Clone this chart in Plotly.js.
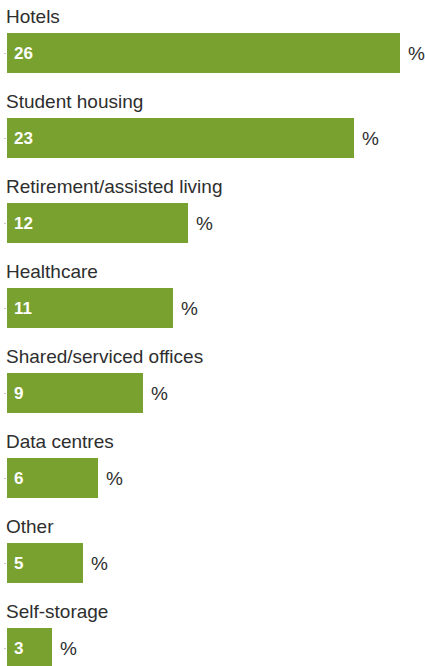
<!DOCTYPE html>
<html>
<head>
<meta charset="utf-8">
<script src="https://cdn.plot.ly/plotly-3.0.1.min.js"></script>
<style>html,body{margin:0;padding:0;background:#fff;}#chart{width:425px;height:666px;}</style>
</head>
<body>
<div id="chart"></div>
<script>
const categories = ["Hotels","Student housing","Retirement/assisted living","Healthcare","Shared/serviced offices","Data centres","Other","Self-storage"];
const values = [26,23,12,11,9,6,5,3];
const unitLabel = "%";

const positions = categories.map((c,i)=>i);
const barColor = "#79a12f";
const textColor = "#2e2e2e";

const trace = {
  type: "bar",
  orientation: "h",
  x: values,
  y: positions,
  width: 0.47,
  marker: {color: barColor},
  hoverinfo: "none"
};

const annotations = [];
categories.forEach((c,i)=>{
  annotations.push({
    x: 0, y: i - 0.425, xref: "x", yref: "y", xshift: -3,
    text: c, showarrow: false, xanchor: "left", yanchor: "middle",
    font: {family: "Liberation Sans, Arial, sans-serif", size: 19, color: textColor}
  });
  annotations.push({
    x: 0, y: i, xref: "x", yref: "y", xshift: 5,
    text: "<b>" + values[i] + "</b>", showarrow: false, xanchor: "left", yanchor: "middle",
    font: {family: "Liberation Sans, Arial, sans-serif", size: 17, color: "#ffffff"}
  });
  annotations.push({
    x: values[i], y: i, xref: "x", yref: "y", xshift: 6,
    text: unitLabel, showarrow: false, xanchor: "left", yanchor: "middle",
    font: {family: "Liberation Sans, Arial, sans-serif", size: 19, color: textColor}
  });
});

const layout = {
  width: 425, height: 666,
  margin: {l: 7, r: 0, t: 0, b: 0},
  paper_bgcolor: "#ffffff", plot_bgcolor: "#ffffff",
  showlegend: false,
  xaxis: {range: [0, 27.68], showgrid: false, zeroline: false, showticklabels: false, ticks: "", showline: false, fixedrange: true},
  yaxis: {range: [7.2118, -0.6235], showgrid: false, zeroline: false, showticklabels: false,
          tickvals: positions, ticks: "outside", ticklen: 2, tickcolor: "#c8c8c8", showline: false, fixedrange: true},
  annotations: annotations,
  bargap: 0
};

Plotly.newPlot("chart", [trace], layout, {displayModeBar: false, staticPlot: true});
</script>
</body>
</html>
